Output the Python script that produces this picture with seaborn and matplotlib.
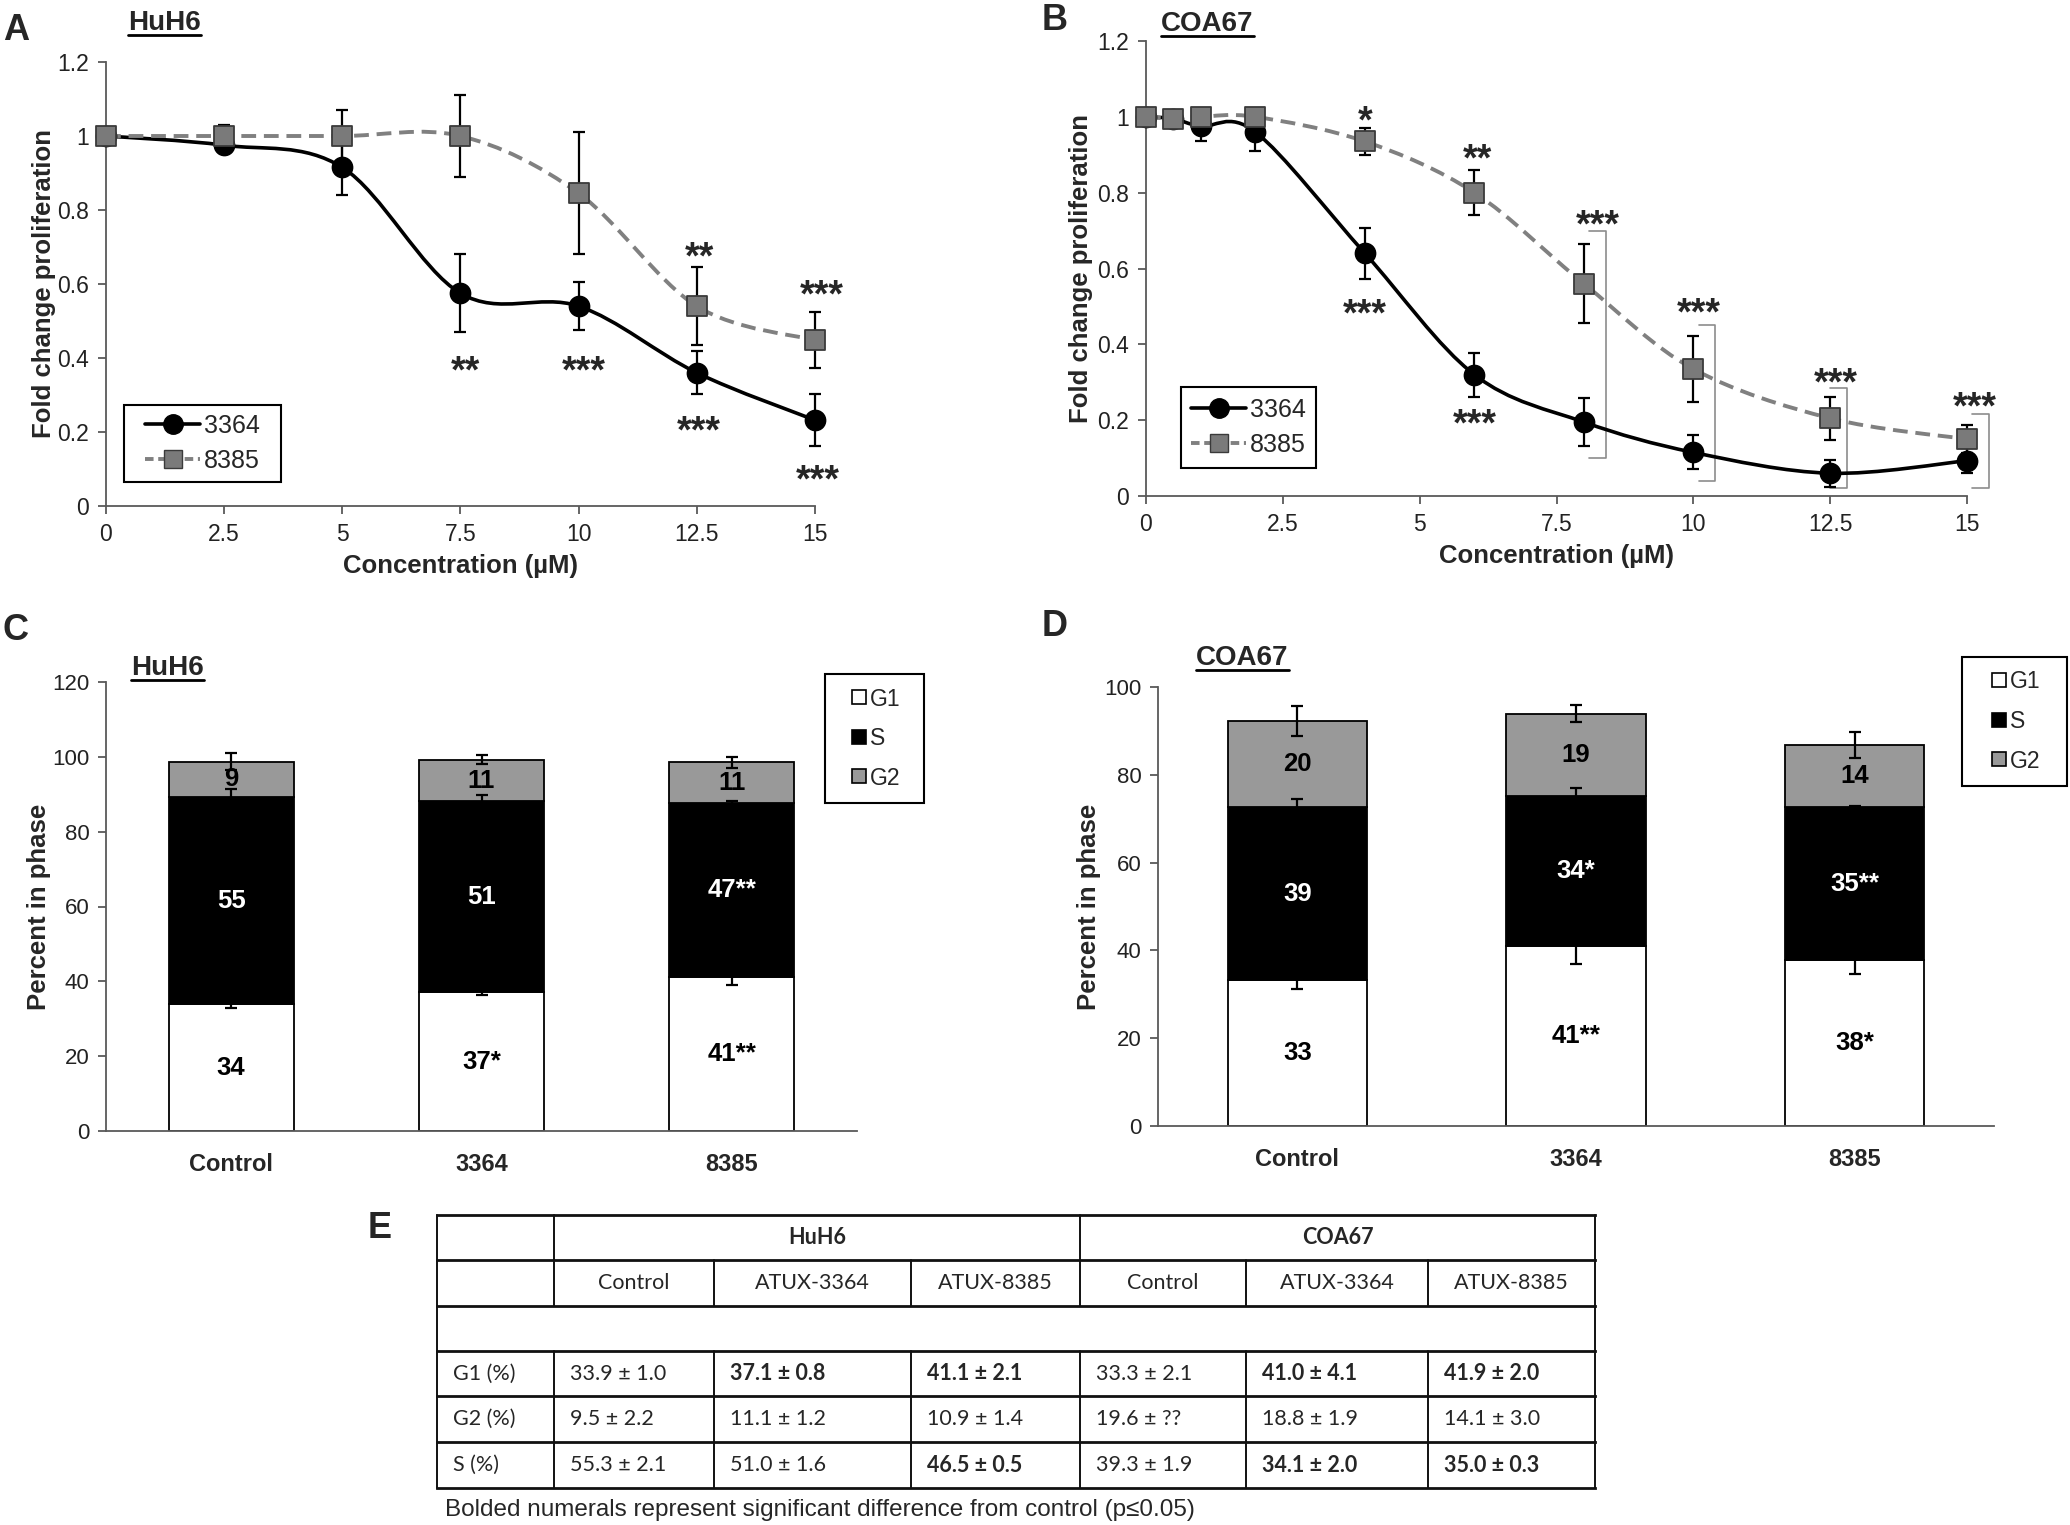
import matplotlib
matplotlib.use('Agg')
import numpy as np
import matplotlib.pyplot as plt
import seaborn as sns
from matplotlib.path import Path
from matplotlib.patches import PathPatch, Rectangle
from matplotlib.lines import Line2D
from matplotlib.ticker import FuncFormatter

sns.set_theme(style='ticks')
plt.rcParams['font.family'] = ['Liberation Sans', 'DejaVu Sans']

# ---- data ----
# A: HuH6 proliferation
huh6_conc = [0, 2.5, 5, 7.5, 10, 12.5, 15]
huh6_3364 = [1.0, 0.975, 0.915, 0.575, 0.54, 0.36, 0.232]
huh6_3364_err = [0.0, 0.02, 0.075, 0.105, 0.065, 0.058, 0.07]
huh6_8385 = [1.0, 1.0, 1.0, 1.0, 0.845, 0.54, 0.448]
huh6_8385_err = [0.0, 0.03, 0.07, 0.11, 0.165, 0.105, 0.075]
huh6_star_x = [7.6, 10.1, 12.55, 15.05, 12.55, 15.15]
huh6_star_y = [0.36, 0.36, 0.20, 0.065, 0.67, 0.565]
huh6_star_txt = ['**', '***', '***', '***', '**', '***']

# B: COA67 proliferation
coa_conc = [0, 0.5, 1, 2, 4, 6, 8, 10, 12.5, 15]
coa_3364 = [1.0, 0.995, 0.975, 0.96, 0.64, 0.32, 0.195, 0.115, 0.06, 0.093]
coa_3364_err = [0.01, 0.02, 0.04, 0.05, 0.068, 0.058, 0.063, 0.045, 0.035, 0.033]
coa_8385 = [1.0, 0.995, 1.0, 1.0, 0.935, 0.80, 0.56, 0.335, 0.205, 0.15]
coa_8385_err = [0.01, 0.02, 0.02, 0.01, 0.035, 0.06, 0.105, 0.088, 0.056, 0.037]
coa_star_x = [4.0, 6.05, 8.25, 10.1, 12.6, 15.15, 4.0, 6.0]
coa_star_y = [0.985, 0.885, 0.71, 0.48, 0.295, 0.23, 0.475, 0.185]
coa_star_txt = ['*', '**', '***', '***', '***', '***', '***', '***']
bracket_x = [8.4, 10.4, 12.8, 15.4]
bracket_top = [0.70, 0.45, 0.285, 0.215]
bracket_bot = [0.10, 0.04, 0.02, 0.02]

# C / D: cell cycle phases
groups = ['Control', '3364', '8385']
huh6_g1 = [33.9, 37.1, 41.1]
huh6_s = [55.3, 51.0, 46.5]
huh6_g2 = [9.5, 11.1, 10.9]
huh6_g1_err = [1.0, 0.8, 2.1]
huh6_s_err = [2.1, 1.6, 0.5]
huh6_g2_err = [2.2, 1.2, 1.4]
huh6_g1_lab = ['34', '37*', '41**']
huh6_s_lab = ['55', '51', '47**']
huh6_g2_lab = ['9', '11', '11']

coa_g1 = [33.3, 41.0, 37.7]
coa_s = [39.3, 34.1, 35.0]
coa_g2 = [19.6, 18.8, 14.1]
coa_g1_err = [2.1, 4.1, 3.0]
coa_s_err = [1.9, 2.0, 0.3]
coa_g2_err = [3.4, 1.9, 3.0]
coa_g1_lab = ['33', '41**', '38*']
coa_s_lab = ['39', '34*', '35**']
coa_g2_lab = ['20', '19', '14']

# E: table
tbl_cols = ['Control', 'ATUX-3364', 'ATUX-8385', 'Control', 'ATUX-3364', 'ATUX-8385']
tbl_rows = ['G1 (%)', 'G2 (%)', 'S (%)']
tbl_vals = [
    ['33.9 ± 1.0', '37.1 ± 0.8', '41.1 ± 2.1', '33.3 ± 2.1', '41.0 ± 4.1', '41.9 ± 2.0'],
    ['9.5 ± 2.2', '11.1 ± 1.2', '10.9 ± 1.4', '19.6 ± ??', '18.8 ± 1.9', '14.1 ± 3.0'],
    ['55.3 ± 2.1', '51.0 ± 1.6', '46.5 ± 0.5', '39.3 ± 1.9', '34.1 ± 2.0', '35.0 ± 0.3'],
]
tbl_bold = [
    [0, 1, 1, 0, 1, 1],
    [0, 0, 0, 0, 0, 0],
    [0, 0, 1, 0, 1, 1],
]

W, H = 2070, 1525
fig = plt.figure(figsize=(W / 100, H / 100), dpi=100)

GRAY_M = '#7a7a7a'
GRAY_BAR = '#999999'
SPINE = '#595959'

# overlay for panel letters, titles, legend boxes and the table
ov = fig.add_axes([0, 0, 1, 1], zorder=-1)
ov.set_xlim(0, W)
ov.set_ylim(H, 0)
ov.axis('off')


def px_axes(l, t, r, b):
    return fig.add_axes([l / W, 1 - b / H, (r - l) / W, (b - t) / H])


def legend_box(ax, handles, labels, box, fontsize, spacing, hlen, tpad):
    l, t, r, b = box
    leg = ax.legend(handles, labels, loc='center',
                    bbox_to_anchor=((l + r) / 2 / W, 1 - (t + b) / 2 / H),
                    bbox_transform=fig.transFigure, frameon=False, fontsize=fontsize,
                    borderpad=0, borderaxespad=0, handlelength=hlen, handletextpad=tpad,
                    labelspacing=spacing)
    ov.add_patch(Rectangle((l, t), r - l, b - t, fill=False, edgecolor='black', lw=1.5))
    return leg


def smooth_path(x, y):
    # Excel-like smoothed line (Catmull-Rom as cubic Bezier)
    pts = np.column_stack([x, y]).astype(float)
    ext = np.vstack([pts[0], pts, pts[-1]])
    verts = [pts[0]]
    codes = [Path.MOVETO]
    for i in range(len(pts) - 1):
        p0, p1, p2, p3 = ext[i], ext[i + 1], ext[i + 2], ext[i + 3]
        verts += [p1 + (p2 - p0) / 6, p2 - (p3 - p1) / 6, p2]
        codes += [Path.CURVE4] * 3
    return Path(verts, codes)


def style_axis(ax):
    for sp in ['top', 'right']:
        ax.spines[sp].set_visible(False)
    for sp in ['left', 'bottom']:
        ax.spines[sp].set_linewidth(1.3)
        ax.spines[sp].set_color(SPINE)
    ax.set_facecolor('none')


def prolif_panel(ax, x, y1, e1, y2, e2, stx, sty, sttxt, ylpad, box):
    ax.add_patch(PathPatch(smooth_path(x, y1), fill=False, edgecolor='black',
                           lw=2.6, zorder=2, clip_on=False))
    ax.add_patch(PathPatch(smooth_path(x, y2), fill=False, edgecolor='#808080',
                           lw=2.8, ls=(0, (3.8, 2.0)), zorder=2, clip_on=False))
    for y, e in [(y1, e1), (y2, e2)]:
        ax.errorbar(x, y, yerr=e, fmt='none', ecolor='black', elinewidth=1.6,
                    capsize=4, capthick=1.6, zorder=3, clip_on=False)
    sns.scatterplot(x=x, y=y1, marker='o', s=210, color='black', edgecolor='black',
                    ax=ax, zorder=5, clip_on=False, legend=False)
    sns.scatterplot(x=x, y=y2, marker='s', s=190, color=GRAY_M, edgecolor='#3a3a3a',
                    linewidth=1.3, ax=ax, zorder=6, clip_on=False, legend=False)
    for sx, sy, st in zip(stx, sty, sttxt):
        ax.text(sx, sy, st, ha='center', va='center', fontsize=27, fontweight='bold')
    ax.set_xlim(0, 15)
    ax.set_ylim(0, 1.2)
    ax.set_xticks([0, 2.5, 5, 7.5, 10, 12.5, 15])
    ax.set_yticks([0, 0.2, 0.4, 0.6, 0.8, 1.0, 1.2])
    fmt = FuncFormatter(lambda v, p: '%g' % v)
    ax.xaxis.set_major_formatter(fmt)
    ax.yaxis.set_major_formatter(fmt)
    ax.tick_params(labelsize=16.5, length=6, width=1.3, pad=6, color=SPINE, labelcolor='#222222')
    ax.set_xlabel('Concentration (µM)', fontsize=18.5, fontweight='bold', labelpad=6)
    ax.set_ylabel('Fold change proliferation', fontsize=18.5, fontweight='bold', labelpad=ylpad)
    style_axis(ax)
    handles = [
        Line2D([], [], color='black', lw=2.6, marker='o', ms=14, mfc='black', mec='black'),
        Line2D([], [], color='#808080', lw=2.8, ls=(0, (2.2, 1.2)), marker='s', ms=13,
               mfc=GRAY_M, mec='#3a3a3a'),
    ]
    legend_box(ax, handles, ['3364', '8385'], box, 18, 0.45, 2.2, 0.15)


def phase_panel(ax, g1, s, g2, e1, es, e2, l1, ls_, l2, ymax, ylpad, box):
    x = np.arange(len(groups))
    g1 = np.array(g1)
    s = np.array(s)
    g2 = np.array(g2)
    kw = dict(width=0.5, edgecolor='black', linewidth=1.3, zorder=2)
    ax.bar(x, g1, color='white', **kw)
    ax.bar(x, s, bottom=g1, color='black', **kw)
    ax.bar(x, g2, bottom=g1 + s, color=GRAY_BAR, **kw)
    ekw = dict(fmt='none', ecolor='black', elinewidth=1.6, capsize=4, capthick=1.6, zorder=3)
    ax.errorbar(x, g1, yerr=e1, **ekw)
    ax.errorbar(x, g1 + s, yerr=es, **ekw)
    ax.errorbar(x, g1 + s + g2, yerr=e2, **ekw)
    for i in range(len(groups)):
        ax.text(x[i], g1[i] / 2, l1[i], ha='center', va='center', fontsize=18.5,
                fontweight='bold', color='black', zorder=4)
        ax.text(x[i], g1[i] + s[i] / 2, ls_[i], ha='center', va='center', fontsize=18.5,
                fontweight='bold', color='white', zorder=4)
        ax.text(x[i], g1[i] + s[i] + g2[i] / 2, l2[i], ha='center', va='center', fontsize=18.5,
                fontweight='bold', color='black', zorder=4)
    ax.set_xlim(-0.5, 2.5)
    ax.set_ylim(0, ymax)
    ax.set_yticks(np.arange(0, ymax + 1, 20))
    ax.set_xticks(x)
    ax.set_xticklabels(groups, fontsize=17, fontweight='bold')
    ax.tick_params(axis='y', labelsize=16, length=6, width=1.3, pad=6, color=SPINE,
                   labelcolor='#222222')
    ax.tick_params(axis='x', length=0, pad=16)
    ax.set_ylabel('Percent in phase', fontsize=18.5, fontweight='bold', labelpad=ylpad)
    style_axis(ax)
    handles = [Line2D([], [], ls='none', marker='s', ms=9.5, mfc=c, mec='black', mew=1.2)
               for c in ['white', 'black', GRAY_BAR]]
    legend_box(ax, handles, ['G1', 'S', 'G2'], box, 16.5, 0.72, 0.9, 0.0)


axA = px_axes(106, 62, 815, 506)
prolif_panel(axA, huh6_conc, huh6_3364, huh6_3364_err, huh6_8385, huh6_8385_err,
             huh6_star_x, huh6_star_y, huh6_star_txt, 1, (124, 405, 281, 482))

axB = px_axes(1146, 41, 1967, 496)
prolif_panel(axB, coa_conc, coa_3364, coa_3364_err, coa_8385, coa_8385_err,
             coa_star_x, coa_star_y, coa_star_txt, 3, (1181, 387, 1316, 468))
for bx, bt, bb in zip(bracket_x, bracket_top, bracket_bot):
    axB.plot([bx - 0.3, bx, bx, bx - 0.3], [bt, bt, bb, bb], color='#8c8c8c', lw=1.2,
             clip_on=False, zorder=1)

axC = px_axes(106, 682, 857, 1131)
phase_panel(axC, huh6_g1, huh6_s, huh6_g2, huh6_g1_err, huh6_s_err, huh6_g2_err,
            huh6_g1_lab, huh6_s_lab, huh6_g2_lab, 120, 1, (825, 674, 924, 803))

axD = px_axes(1158, 687, 1994, 1126)
phase_panel(axD, coa_g1, coa_s, coa_g2, coa_g1_err, coa_s_err, coa_g2_err,
            coa_g1_lab, coa_s_lab, coa_g2_lab, 100, 2, (1962, 657, 2067, 786))

for lt, lx, ly in [('A', 3, 30), ('B', 1042, 20), ('C', 2, 631), ('D', 1042, 626), ('E', 368, 1229)]:
    ov.text(lx, ly, lt, fontsize=26, fontweight='bold', ha='left', va='center')

renderer = fig.canvas.get_renderer()
for tt, tx, ty in [('HuH6', 128, 23), ('COA67', 1161, 24), ('HuH6', 131, 668), ('COA67', 1196, 658)]:
    t = ov.text(tx, ty, tt, fontsize=20, fontweight='bold', ha='left', va='center')
    bb = t.get_window_extent(renderer)
    yl = H - bb.y0 - 1
    ov.plot([bb.x0, bb.x1], [yl, yl], color='black', lw=2)

cols = [437, 554, 714, 911, 1080, 1246, 1428, 1595]
rows = [1215, 1260, 1306, 1351, 1396, 1442, 1488]
TF = ['Lato', 'DejaVu Sans']
hl = dict(color='#111111', lw=2.0, solid_capstyle='projecting')
vl = dict(color='#111111', lw=1.4)
for ry in rows:
    ov.plot([cols[0], cols[-1]], [ry, ry], **hl)
ov.plot([cols[0], cols[0]], [rows[0], rows[-1]], **vl)
ov.plot([cols[-1], cols[-1]], [rows[0], rows[-1]], **vl)
for cx in [cols[1], cols[4]]:
    ov.plot([cx, cx], [rows[0], rows[1]], **vl)
for cx in cols[1:-1]:
    ov.plot([cx, cx], [rows[1], rows[2]], **vl)
    ov.plot([cx, cx], [rows[3], rows[6]], **vl)

ov.text((cols[1] + cols[4]) / 2, (rows[0] + rows[1]) / 2, 'HuH6', family=TF, fontsize=15.5,
        fontweight='bold', ha='center', va='center')
ov.text((cols[4] + cols[7]) / 2, (rows[0] + rows[1]) / 2, 'COA67', family=TF, fontsize=15.5,
        fontweight='bold', ha='center', va='center')
for j, cname in enumerate(tbl_cols):
    ov.text((cols[j + 1] + cols[j + 2]) / 2, (rows[1] + rows[2]) / 2, cname, family=TF,
            fontsize=15.5, ha='center', va='center')
for i, rname in enumerate(tbl_rows):
    yc = (rows[3 + i] + rows[4 + i]) / 2
    ov.text(cols[0] + 16, yc, rname, family=TF, fontsize=15.5, ha='left', va='center')
    for j, v in enumerate(tbl_vals[i]):
        ov.text(cols[j + 1] + 16, yc, v, family=TF, fontsize=15.5, ha='left', va='center',
                fontweight='bold' if tbl_bold[i][j] else 'normal')

ov.text(445, 1510, 'Bolded numerals represent significant difference from control (p≤0.05)',
        fontsize=17.5, ha='left', va='center')

fig.savefig('out.png', dpi=100)
